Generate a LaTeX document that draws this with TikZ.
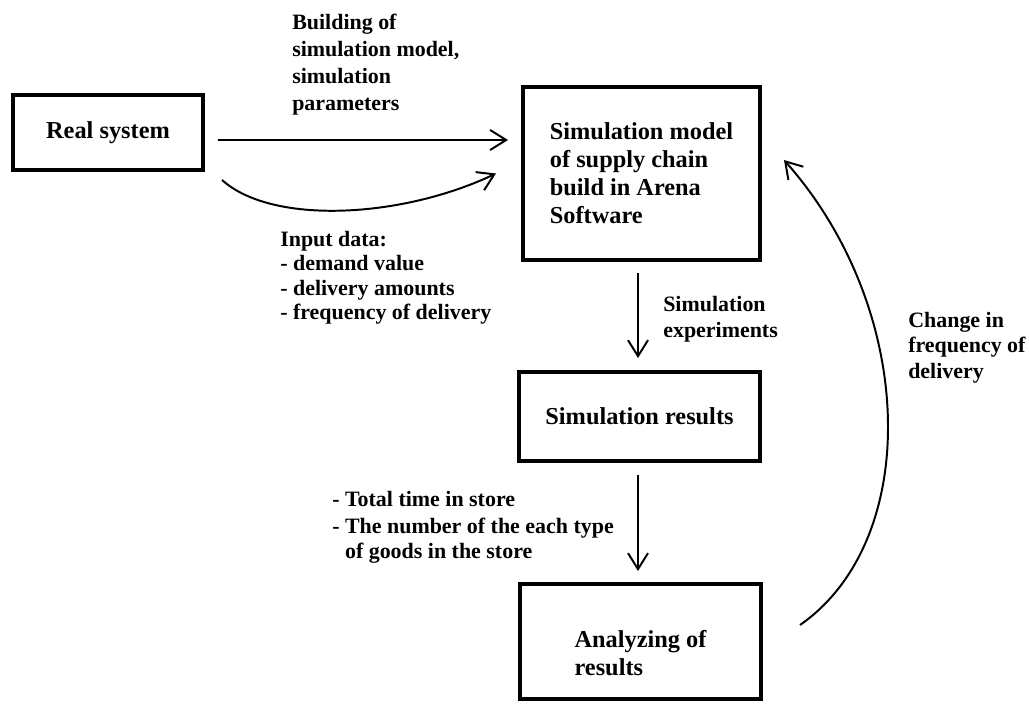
\documentclass[tikz,border=0pt]{standalone}
\usepackage{fontspec}
\setmainfont{Liberation Serif}
\usetikzlibrary{arrows.meta}

\begin{document}
\begin{tikzpicture}[x=0.025cm,y=-0.025cm,
  box/.style={draw,line width=2.8pt,inner sep=0pt,align=left,font=\bfseries\fontsize{17.3}{19.9}\selectfont},
  txt/.style={inner sep=0pt,anchor=north west,align=left,font=\bfseries\fontsize{15.6}{#1}\selectfont},
  txt/.default=18.5,
  arr/.style={line width=1.4pt,-{Straight Barb[length=4mm,width=5mm]}}]
\useasboundingbox (0,0) rectangle (1029,703);

\node[box,minimum width=4.75cm,minimum height=1.875cm] (real) at (108,132.5) {Real system};
\node[box,minimum width=5.925cm,minimum height=4.325cm] (simmod) at (641.5,173.5) {Simulation model\\of supply chain\\build in Arena\\Software};
\node[box,minimum width=6.025cm,minimum height=2.225cm] (simres) at (639.5,416.5) {Simulation results};
\node[box,minimum width=6.025cm,minimum height=2.875cm] (ana) at (640.5,641.5) {\rule{0pt}{28pt}Analyzing of\\results};

\node[txt=19.1] (build) at (292,14) {Building of\\simulation model,\\simulation\\parameters};
\node[txt=17.4] (input) at (280,231) {Input data:\\- demand value\\- delivery amounts\\- frequency of delivery};
\node[txt=18.4] (simexp) at (663,296) {Simulation\\experiments};
\node[txt=18.1] (change) at (908,312) {Change in\\frequency of\\delivery};
\node[txt=17.7] (total) at (332,491) {- Total time in store\\[1.4pt]- The number of the each type\\\hphantom{- }of goods in the store};

\draw[arr] ([shift={(13,7.5)}]real.east) -- ([shift={(-13,-33.5)}]simmod.west);
\draw[arr] ([shift={(17,8)}]real.south east) .. controls +(50,45) and +(-95,45) .. ([shift={(-25,0)}]simmod.west);
\draw[arr] ([shift={(-3.5,11)}]simmod.south) -- ([shift={(-1.5,-12)}]simres.north);
\draw[arr] ([shift={(-1.5,12)}]simres.south) -- ([shift={(-2.5,-11)}]ana.north);
\draw[arr] ([shift={(37,-16.5)}]ana.east) .. controls +(122,-85) and +(133,150) .. ([shift={(22,-13.5)}]simmod.east);
\end{tikzpicture}
\end{document}
